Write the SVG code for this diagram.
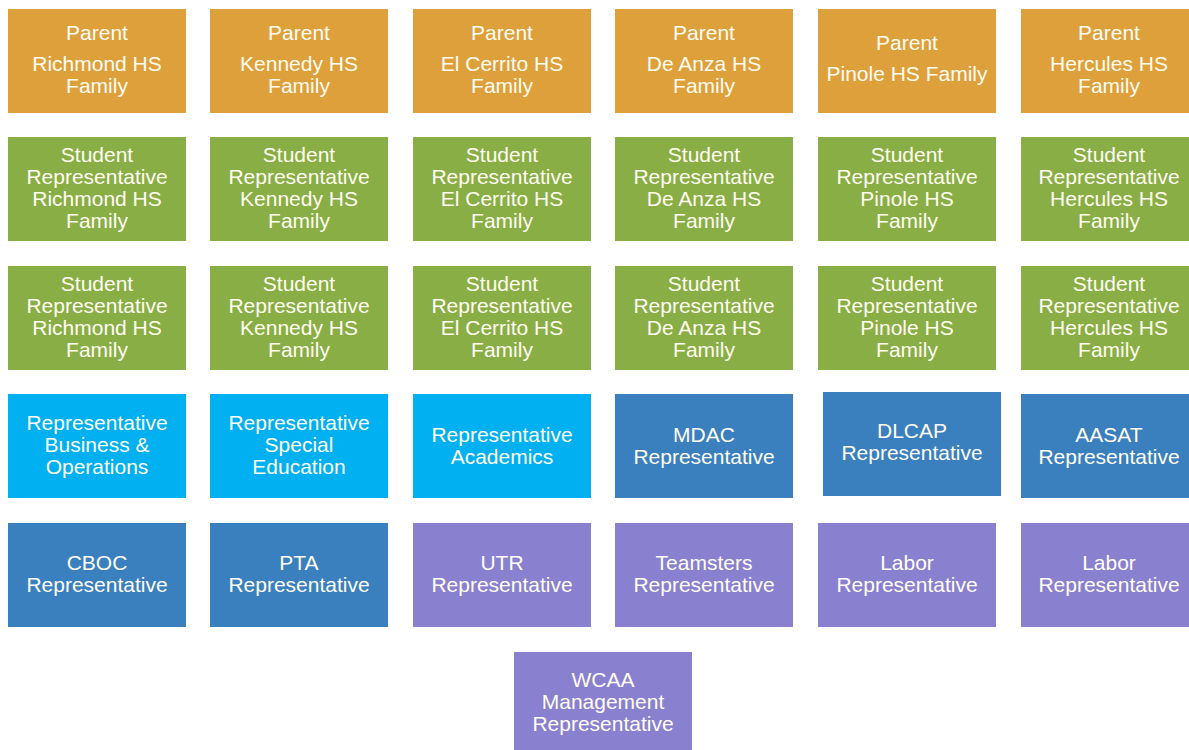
<svg xmlns="http://www.w3.org/2000/svg" width="1189" height="750" viewBox="0 0 1189 750">
<style>
  .box{stroke:none}
  .parent{fill:#DEA03B}
  .student{fill:#89AE45}
  .light{fill:#00B0F0}
  .dark{fill:#3A80BE}
  .purple{fill:#8A80D0}
  text{font-family:"Liberation Sans",Arial,sans-serif;font-size:21px;fill:#FFFDF2;text-anchor:middle}
</style>
<rect width="1189" height="750" fill="#FFFFFF"/>
<g id="connectors"></g>

<!-- Row 1: Parents -->
<g id="parent-richmond"><rect class="box parent" x="8" y="9" width="178" height="104"/><text x="97" y="40">Parent</text><text x="97" y="71">Richmond HS</text><text x="97" y="93">Family</text></g>
<g id="parent-kennedy"><rect class="box parent" x="210" y="9" width="178" height="104"/><text x="299" y="40">Parent</text><text x="299" y="71">Kennedy HS</text><text x="299" y="93">Family</text></g>
<g id="parent-elcerrito"><rect class="box parent" x="413" y="9" width="178" height="104"/><text x="502" y="40">Parent</text><text x="502" y="71">El Cerrito HS</text><text x="502" y="93">Family</text></g>
<g id="parent-deanza"><rect class="box parent" x="615" y="9" width="178" height="104"/><text x="704" y="40">Parent</text><text x="704" y="71">De Anza HS</text><text x="704" y="93">Family</text></g>
<g id="parent-pinole"><rect class="box parent" x="818" y="9" width="178" height="104"/><text x="907" y="50">Parent</text><text x="907" y="81">Pinole HS Family</text></g>
<g id="parent-hercules"><rect class="box parent" x="1021" y="9" width="178" height="104"/><text x="1109" y="40">Parent</text><text x="1109" y="71">Hercules HS</text><text x="1109" y="93">Family</text></g>

<!-- Row 2: Students -->
<g id="student1-richmond"><rect class="box student" x="8" y="137" width="178" height="104"/><text x="97" y="162">Student</text><text x="97" y="184">Representative</text><text x="97" y="206">Richmond HS</text><text x="97" y="228">Family</text></g>
<g id="student1-kennedy"><rect class="box student" x="210" y="137" width="178" height="104"/><text x="299" y="162">Student</text><text x="299" y="184">Representative</text><text x="299" y="206">Kennedy HS</text><text x="299" y="228">Family</text></g>
<g id="student1-elcerrito"><rect class="box student" x="413" y="137" width="178" height="104"/><text x="502" y="162">Student</text><text x="502" y="184">Representative</text><text x="502" y="206">El Cerrito HS</text><text x="502" y="228">Family</text></g>
<g id="student1-deanza"><rect class="box student" x="615" y="137" width="178" height="104"/><text x="704" y="162">Student</text><text x="704" y="184">Representative</text><text x="704" y="206">De Anza HS</text><text x="704" y="228">Family</text></g>
<g id="student1-pinole"><rect class="box student" x="818" y="137" width="178" height="104"/><text x="907" y="162">Student</text><text x="907" y="184">Representative</text><text x="907" y="206">Pinole HS</text><text x="907" y="228">Family</text></g>
<g id="student1-hercules"><rect class="box student" x="1021" y="137" width="178" height="104"/><text x="1109" y="162">Student</text><text x="1109" y="184">Representative</text><text x="1109" y="206">Hercules HS</text><text x="1109" y="228">Family</text></g>

<!-- Row 3: Students -->
<g id="student2-richmond"><rect class="box student" x="8" y="266" width="178" height="104"/><text x="97" y="291">Student</text><text x="97" y="313">Representative</text><text x="97" y="335">Richmond HS</text><text x="97" y="357">Family</text></g>
<g id="student2-kennedy"><rect class="box student" x="210" y="266" width="178" height="104"/><text x="299" y="291">Student</text><text x="299" y="313">Representative</text><text x="299" y="335">Kennedy HS</text><text x="299" y="357">Family</text></g>
<g id="student2-elcerrito"><rect class="box student" x="413" y="266" width="178" height="104"/><text x="502" y="291">Student</text><text x="502" y="313">Representative</text><text x="502" y="335">El Cerrito HS</text><text x="502" y="357">Family</text></g>
<g id="student2-deanza"><rect class="box student" x="615" y="266" width="178" height="104"/><text x="704" y="291">Student</text><text x="704" y="313">Representative</text><text x="704" y="335">De Anza HS</text><text x="704" y="357">Family</text></g>
<g id="student2-pinole"><rect class="box student" x="818" y="266" width="178" height="104"/><text x="907" y="291">Student</text><text x="907" y="313">Representative</text><text x="907" y="335">Pinole HS</text><text x="907" y="357">Family</text></g>
<g id="student2-hercules"><rect class="box student" x="1021" y="266" width="178" height="104"/><text x="1109" y="291">Student</text><text x="1109" y="313">Representative</text><text x="1109" y="335">Hercules HS</text><text x="1109" y="357">Family</text></g>

<!-- Row 4 -->
<g id="rep-business"><rect class="box light" x="8" y="394" width="178" height="104"/><text x="97" y="430">Representative</text><text x="97" y="452">Business &amp;</text><text x="97" y="474">Operations</text></g>
<g id="rep-special"><rect class="box light" x="210" y="394" width="178" height="104"/><text x="299" y="430">Representative</text><text x="299" y="452">Special</text><text x="299" y="474">Education</text></g>
<g id="rep-academics"><rect class="box light" x="413" y="394" width="178" height="104"/><text x="502" y="442">Representative</text><text x="502" y="464">Academics</text></g>
<g id="mdac"><rect class="box dark" x="615" y="394" width="178" height="104"/><text x="704" y="442">MDAC</text><text x="704" y="464">Representative</text></g>
<g id="dlcap"><rect class="box dark" x="823" y="392" width="178" height="104"/><text x="912" y="438">DLCAP</text><text x="912" y="460">Representative</text></g>
<g id="aasat"><rect class="box dark" x="1021" y="394" width="178" height="104"/><text x="1109" y="442">AASAT</text><text x="1109" y="464">Representative</text></g>

<!-- Row 5 -->
<g id="cboc"><rect class="box dark" x="8" y="523" width="178" height="104"/><text x="97" y="570">CBOC</text><text x="97" y="592">Representative</text></g>
<g id="pta"><rect class="box dark" x="210" y="523" width="178" height="104"/><text x="299" y="570">PTA</text><text x="299" y="592">Representative</text></g>
<g id="utr"><rect class="box purple" x="413" y="523" width="178" height="104"/><text x="502" y="570">UTR</text><text x="502" y="592">Representative</text></g>
<g id="teamsters"><rect class="box purple" x="615" y="523" width="178" height="104"/><text x="704" y="570">Teamsters</text><text x="704" y="592">Representative</text></g>
<g id="labor1"><rect class="box purple" x="818" y="523" width="178" height="104"/><text x="907" y="570">Labor</text><text x="907" y="592">Representative</text></g>
<g id="labor2"><rect class="box purple" x="1021" y="523" width="178" height="104"/><text x="1109" y="570">Labor</text><text x="1109" y="592">Representative</text></g>

<!-- Row 6 -->
<g id="wcaa"><rect class="box purple" x="514" y="652" width="178" height="104"/><text x="603" y="687">WCAA</text><text x="603" y="709">Management</text><text x="603" y="731">Representative</text></g>
</svg>
